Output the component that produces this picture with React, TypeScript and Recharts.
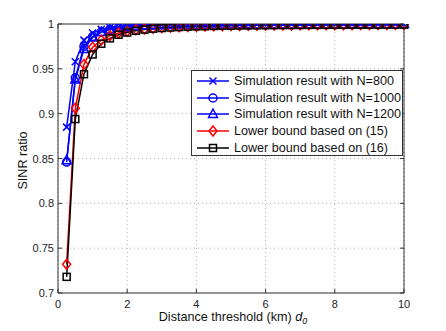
import React from 'react'
import { LineChart, Line, XAxis, YAxis, CartesianGrid, ReferenceLine } from 'recharts'

const distances = [
  0.25, 0.5, 0.75, 1, 1.25, 1.5, 1.75, 2, 2.25, 2.5,
  2.75, 3, 3.25, 3.5, 3.75, 4, 4.25, 4.5, 4.75, 5,
  5.25, 5.5, 5.75, 6, 6.25, 6.5, 6.75, 7, 7.25, 7.5,
  7.75, 8, 8.25, 8.5, 8.75, 9, 9.25, 9.5, 9.75, 10
]

const simN800 = [
  0.885, 0.958, 0.982, 0.990, 0.994, 0.996, 0.997, 0.998, 0.9983, 0.9986,
  0.9988, 0.999, 0.9991, 0.9992, 0.9993, 0.9994, 0.9994, 0.9995, 0.9995, 0.9996,
  0.9996, 0.9996, 0.9997, 0.9997, 0.9997, 0.9997, 0.9998, 0.9998, 0.9998, 0.9998,
  0.9998, 0.9998, 0.9999, 0.9999, 0.9999, 0.9999, 0.9999, 0.9999, 0.9999, 0.9999
]

const simN1000 = [
  0.846, 0.940, 0.975, 0.986, 0.991, 0.994, 0.996, 0.997, 0.998, 0.9985,
  0.9988, 0.999, 0.9991, 0.9992, 0.9993, 0.9993, 0.9994, 0.9994, 0.9995, 0.9995,
  0.9996, 0.9996, 0.9996, 0.9997, 0.9997, 0.9997, 0.9997, 0.9998, 0.9998, 0.9998,
  0.9998, 0.9998, 0.9998, 0.9999, 0.9999, 0.9999, 0.9999, 0.9999, 0.9999, 0.9999
]

const simN1200 = [
  0.848, 0.938, 0.972, 0.985, 0.991, 0.994, 0.996, 0.997, 0.998, 0.9985,
  0.9988, 0.999, 0.9991, 0.9992, 0.9993, 0.9993, 0.9994, 0.9994, 0.9995, 0.9995,
  0.9996, 0.9996, 0.9996, 0.9997, 0.9997, 0.9997, 0.9997, 0.9998, 0.9998, 0.9998,
  0.9998, 0.9998, 0.9998, 0.9999, 0.9999, 0.9999, 0.9999, 0.9999, 0.9999, 0.9999
]

const bound15 = [
  0.732, 0.906, 0.955, 0.974, 0.982, 0.987, 0.990, 0.992, 0.9935, 0.9945,
  0.9953, 0.996, 0.9965, 0.9969, 0.9972, 0.9975, 0.9977, 0.9979, 0.9981, 0.9982,
  0.9984, 0.9985, 0.9986, 0.9987, 0.9988, 0.9988, 0.9989, 0.999, 0.999, 0.9991,
  0.9991, 0.9992, 0.9992, 0.9992, 0.9993, 0.9993, 0.9993, 0.9994, 0.9994, 0.9994
]

const bound16 = [
  0.718, 0.894, 0.944, 0.966, 0.978, 0.984, 0.988, 0.9905, 0.9925, 0.9938,
  0.9948, 0.9955, 0.9961, 0.9966, 0.997, 0.9973, 0.9975, 0.9978, 0.998, 0.9981,
  0.9983, 0.9984, 0.9985, 0.9986, 0.9987, 0.9988, 0.9988, 0.9989, 0.999, 0.999,
  0.9991, 0.9991, 0.9991, 0.9992, 0.9992, 0.9992, 0.9993, 0.9993, 0.9993, 0.9993
]

const xTicks = [0, 2, 4, 6, 8, 10]
const yTicks = [0.7, 0.75, 0.8, 0.85, 0.9, 0.95, 1]

const seriesInfo = [
  { key: 'n800', name: 'Simulation result with N=800', color: '#0000FF', marker: 'x' },
  { key: 'n1000', name: 'Simulation result with N=1000', color: '#0000FF', marker: 'circle' },
  { key: 'n1200', name: 'Simulation result with N=1200', color: '#0000FF', marker: 'triangle' },
  { key: 'b15', name: 'Lower bound based on (15)', color: '#FF0000', marker: 'diamond' },
  { key: 'b16', name: 'Lower bound based on (16)', color: '#000000', marker: 'square' }
]

const data = distances.map((d, i) => ({
  d,
  n800: simN800[i],
  n1000: simN1000[i],
  n1200: simN1200[i],
  b15: bound15[i],
  b16: bound16[i]
}))

const FONT = '"Liberation Sans", Arial, Helvetica, sans-serif'
const PLOT_TOP = 24
const PLOT_LEFT = 58
const PLOT_RIGHT = 404
const PLOT_BOTTOM = 293

const Marker = ({ type, cx, cy, color }: { type: string; cx: number; cy: number; color: string }) => {
  const p = { fill: 'none', stroke: color, strokeWidth: 1.5 }
  if (type === 'x') {
    const s = 3.5
    return (
      <g>
        <line x1={cx - s} y1={cy - s} x2={cx + s} y2={cy + s} {...p} />
        <line x1={cx - s} y1={cy + s} x2={cx + s} y2={cy - s} {...p} />
      </g>
    )
  }
  if (type === 'circle') return <circle cx={cx} cy={cy} r={4} {...p} />
  if (type === 'triangle')
    return <polygon points={`${cx},${cy - 5} ${cx + 4.5},${cy + 3.5} ${cx - 4.5},${cy + 3.5}`} {...p} />
  if (type === 'diamond')
    return <polygon points={`${cx},${cy - 5} ${cx + 4},${cy} ${cx},${cy + 5} ${cx - 4},${cy}`} {...p} />
  return <rect x={cx - 3.5} y={cy - 3.5} width={7} height={7} {...p} />
}

const makeDot = (type: string, color: string) => (props: any) => {
  const { cx, cy, index } = props
  if (cx == null || cy == null) return <g key={`e-${index}`} />
  return (
    <g key={`${type}-${index}`}>
      <Marker type={type} cx={cx} cy={cy} color={color} />
    </g>
  )
}

const XTick = (props: any) => {
  const { x, y, payload } = props
  return (
    <g>
      <line x1={x} y1={PLOT_BOTTOM} x2={x} y2={PLOT_BOTTOM - 4} stroke="#333" />
      <line x1={x} y1={PLOT_TOP} x2={x} y2={PLOT_TOP + 4} stroke="#333" />
      <text x={x} y={y + 11} textAnchor="middle" dominantBaseline="central" fontSize={11} fill="#222" fontFamily={FONT}>
        {payload.value}
      </text>
    </g>
  )
}

const YTick = (props: any) => {
  const { x, y, payload } = props
  return (
    <g>
      <line x1={PLOT_LEFT} y1={y} x2={PLOT_LEFT + 4} y2={y} stroke="#333" />
      <line x1={PLOT_RIGHT} y1={y} x2={PLOT_RIGHT - 4} y2={y} stroke="#333" />
      <text x={x - 4} y={y} textAnchor="end" dominantBaseline="central" fontSize={11} fill="#222" fontFamily={FONT}>
        {payload.value}
      </text>
    </g>
  )
}

const LegendBox = () => (
  <div
    style={{
      position: 'absolute',
      left: 191,
      top: 70,
      width: 212,
      height: 86,
      boxSizing: 'border-box',
      border: '1px solid #333',
      background: '#fff',
      paddingTop: 2,
      fontFamily: FONT,
      fontSize: 12.6,
      color: '#111'
    }}
  >
    {seriesInfo.map((s) => (
      <div key={s.key} style={{ display: 'flex', alignItems: 'center', height: 16.6, whiteSpace: 'nowrap' }}>
        <svg width={42} height={14} style={{ flex: 'none' }}>
          <line x1={5} y1={7} x2={37} y2={7} stroke={s.color} strokeWidth={1.5} />
          <Marker type={s.marker} cx={21} cy={7} color={s.color} />
        </svg>
        <span>{s.name}</span>
      </div>
    ))}
  </div>
)

export default function App() {
  return (
    <div style={{ position: 'absolute', left: 0, top: 0, width: 446, height: 331, background: '#fff' }}>
      <LineChart
        width={446}
        height={331}
        data={data}
        margin={{ top: PLOT_TOP, right: 446 - PLOT_RIGHT, bottom: 0, left: 0 }}
      >
        <CartesianGrid stroke="#b0b0b0" strokeDasharray="1 3" />
        <XAxis
          dataKey="d"
          type="number"
          domain={[0, 10]}
          ticks={xTicks}
          height={331 - PLOT_BOTTOM}
          tickSize={0}
          tickMargin={0}
          tick={<XTick />}
          axisLine={{ stroke: '#333' }}
          tickLine={false}
          label={(props: any) => {
            const vb = props.viewBox
            return (
              <text x={vb.x + vb.width / 2 + 2} y={vb.y + 28} textAnchor="middle" fontSize={12.6} fill="#111" fontFamily={FONT}>
                Distance threshold (km){' '}
                <tspan fontStyle="italic">d</tspan>
                <tspan fontStyle="italic" fontSize={9} dy={3}>0</tspan>
              </text>
            )
          }}
        />
        <YAxis
          type="number"
          domain={[0.7, 1]}
          ticks={yTicks}
          width={PLOT_LEFT}
          tickSize={0}
          tickMargin={0}
          tick={<YTick />}
          axisLine={{ stroke: '#333' }}
          tickLine={false}
          allowDataOverflow
          label={(props: any) => {
            const vb = props.viewBox
            const cx = vb.x + 23
            const cy = vb.y + vb.height / 2 + 2
            return (
              <text x={cx} y={cy} textAnchor="middle" dominantBaseline="central" transform={`rotate(-90 ${cx} ${cy})`} fontSize={12.6} fill="#111" fontFamily={FONT}>
                SINR ratio
              </text>
            )
          }}
        />
        <ReferenceLine y={1} stroke="#333" />
        <ReferenceLine x={10} stroke="#333" />
        {seriesInfo.map((s) => (
          <Line
            key={s.key}
            dataKey={s.key}
            name={s.name}
            type="linear"
            stroke={s.color}
            strokeWidth={1.5}
            dot={makeDot(s.marker, s.color)}
            activeDot={false}
            isAnimationActive={false}
          />
        ))}
      </LineChart>
      <LegendBox />
    </div>
  )
}
